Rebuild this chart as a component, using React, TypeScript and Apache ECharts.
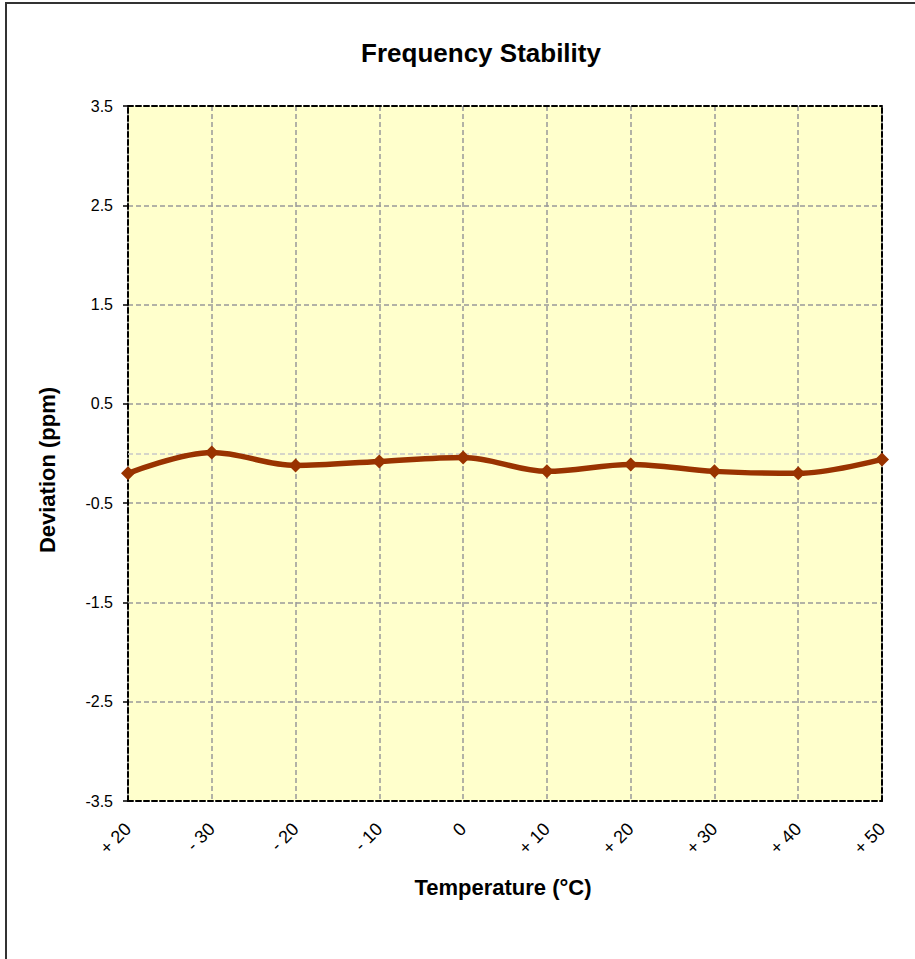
import React, { useEffect, useRef } from "react";
import * as echarts from "echarts";

const categories = ["+ 20", "- 30", "- 20", "- 10", "0", "+ 10", "+ 20", "+ 30", "+ 40", "+ 50"];
const deviation = [-0.2, 0.01, -0.12, -0.08, -0.04, -0.18, -0.11, -0.18, -0.2, -0.06];
const yTicks = { min: -3.5, max: 3.5, interval: 1 };
const titleText = "Frequency Stability";
const xName = "Temperature (°C)";
const yName = "Deviation (ppm)";

export default function App() {
  const ref = useRef<HTMLDivElement>(null);
  useEffect(() => {
    if (!ref.current) return;
    const chart = echarts.init(ref.current, null, { renderer: "svg" });
    const font = "Liberation Sans, Arial, sans-serif";
    const dashedBlack = { show: true, lineStyle: { color: "#000", width: 2, type: [5, 3] as any } };
    chart.setOption({
      animation: false,
      backgroundColor: "#fff",
      title: {
        text: titleText,
        left: 476,
        top: 35,
        textAlign: "center",
        textStyle: { fontFamily: font, fontSize: 26, fontWeight: "bold", color: "#000" },
      },
      graphic: [
        {
          type: "rect",
          shape: { x: 6, y: 3, width: 930, height: 980 },
          style: { fill: "none", stroke: "#333", lineWidth: 2 },
          silent: true,
        },
        {
          type: "text",
          x: 47,
          y: 470,
          rotation: Math.PI / 2,
          style: {
            text: yName,
            fontFamily: font,
            fontSize: 22,
            fontWeight: "bold",
            fill: "#000",
            align: "center",
            verticalAlign: "middle",
          },
          silent: true,
        },
        {
          type: "text",
          x: 503,
          y: 887,
          style: {
            text: xName,
            fontFamily: font,
            fontSize: 22,
            fontWeight: "bold",
            fill: "#000",
            align: "center",
            verticalAlign: "middle",
          },
          silent: true,
        },
      ],
      grid: {
        left: 128,
        right: 915 - 882,
        top: 106,
        bottom: 959 - 801,
        show: true,
        backgroundColor: "#ffffcc",
        borderWidth: 0,
      },
      xAxis: [
        {
          type: "category",
          data: categories,
          boundaryGap: false,
          position: "bottom",
          axisLine: { ...dashedBlack, onZero: false },
          axisTick: { show: false },
          axisLabel: {
            rotate: 45,
            fontFamily: font,
            fontSize: 18,
            color: "#000",
            margin: 25,
            interval: 0,
          },
          splitLine: { show: true, lineStyle: { color: "#999", width: 1.5, type: [5, 3] } },
        },
        {
          type: "category",
          data: categories,
          boundaryGap: false,
          position: "top",
          axisLine: { ...dashedBlack, onZero: false },
          axisTick: { show: false },
          axisLabel: { show: false },
          splitLine: { show: false },
        },
      ],
      yAxis: [
        {
          type: "value",
          min: yTicks.min,
          max: yTicks.max,
          interval: yTicks.interval,
          position: "left",
          axisLine: { ...dashedBlack, onZero: false },
          axisTick: { show: true, length: 5, lineStyle: { color: "#000", width: 1.5 } },
          axisLabel: {
            fontFamily: font,
            fontSize: 16,
            color: "#000",
            margin: 15,
            formatter: (v: number) => String(v),
          },
          splitLine: { show: true, lineStyle: { color: "#999", width: 1.5, type: [5, 3] } },
        },
        {
          type: "value",
          min: yTicks.min,
          max: yTicks.max,
          interval: yTicks.interval,
          position: "right",
          axisLine: { ...dashedBlack, onZero: false },
          axisTick: { show: false },
          axisLabel: { show: false },
          splitLine: { show: false },
        },
      ],
      series: [
        {
          type: "line",
          data: deviation,
          xAxisIndex: 0,
          yAxisIndex: 0,
          smooth: 0.35,
          symbol: "diamond",
          symbolSize: 14,
          lineStyle: { color: "#993300", width: 5.5 },
          itemStyle: { color: "#993300" },
          z: 5,
          markLine: {
            silent: true,
            symbol: "none",
            label: { show: false },
            lineStyle: { color: "#c8c8c8", width: 1.5, type: [5, 3] },
            data: [{ yAxis: 0 }],
            z: 1,
          },
        },
      ],
    });
    return () => chart.dispose();
  }, []);
  return <div ref={ref} style={{ position: "fixed", left: 0, top: 0, width: 915, height: 959 }} />;
}
